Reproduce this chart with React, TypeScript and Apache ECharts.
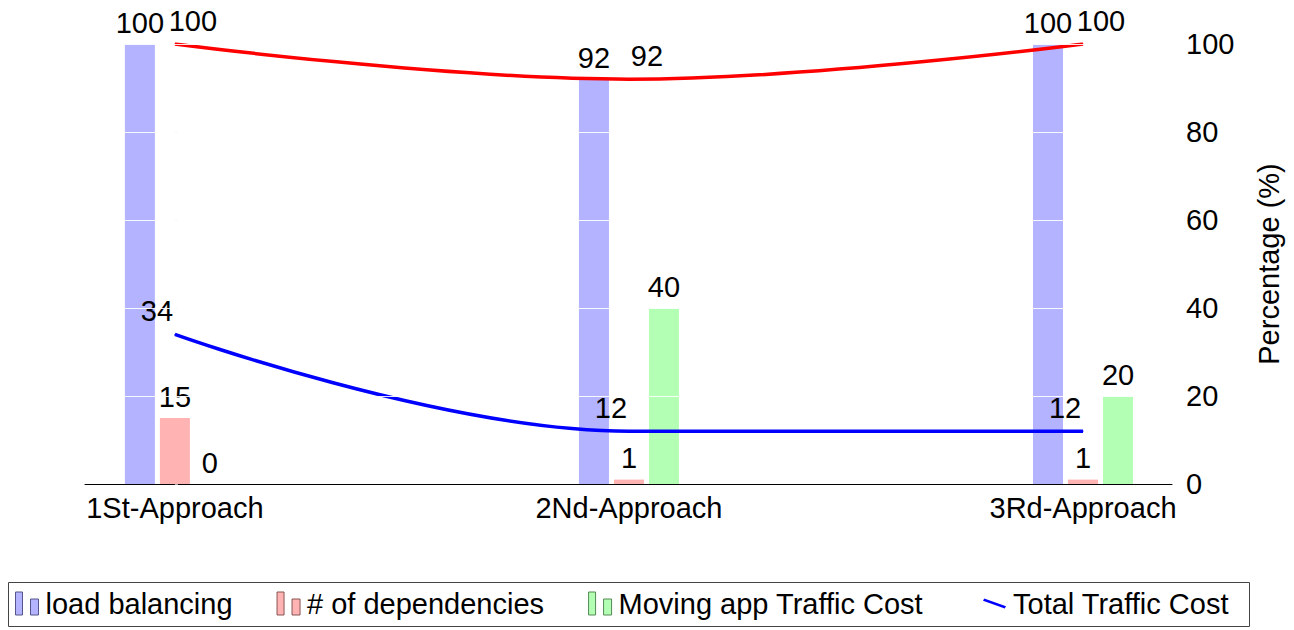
import React, { useEffect, useRef } from "react";
import * as echarts from "echarts";

const categories = ["1St-Approach", "2Nd-Approach", "3Rd-Approach"];
const loadBalancing = [100, 92, 100];
const dependencies = [15, 1, 1];
const movingCost = [0, 40, 20];
const totalCost = [34, 12, 12];
const upperLine = [100, 92, 100];
const gridValues = [20, 40, 60, 80, 100];

const FONT = "Liberation Sans";
const FS = 29;

const toXY = (arr: number[]) => arr.map((v, i) => [i, v]);

export default function App() {
  const ref = useRef<HTMLDivElement>(null);
  useEffect(() => {
    if (!ref.current) return;
    const chart = echarts.init(ref.current, undefined, { renderer: "svg" });
    const barLabel = {
      show: true,
      position: "top" as const,
      distance: 7,
      color: "#000",
      fontFamily: FONT,
      fontSize: FS,
    };
    const barIcon = "path://M0,0 L7,0 L7,23 L0,23 Z M15,7 L23,7 L23,23 L15,23 Z";
    const lineIcon = "path://M0,2.2 L1.2,0 L22,7.3 L20.8,9.5 Z";
    const legendBase = {
      top: 589,
      padding: 0,
      itemWidth: 23,
      itemHeight: 23,
      itemGap: 44,
      textStyle: { color: "#000", fontFamily: FONT, fontSize: FS, padding: [0, 0, 0, 2] },
    };
    chart.setOption({
      animation: false,
      textStyle: { fontFamily: FONT },
      grid: { left: 85, right: 122, top: 44, bottom: 146 },
      xAxis: {
        type: "value",
        min: -0.198,
        max: 2.196,
        axisLine: { show: true, lineStyle: { color: "#000", width: 1 } },
        axisTick: { show: false },
        splitLine: { show: false },
        axisLabel: {
          customValues: [0, 1, 2],
          formatter: (v: number) => categories[Math.round(v)] ?? "",
          color: "#000",
          fontFamily: FONT,
          fontSize: FS,
          margin: 9,
        },
      },
      yAxis: {
        type: "value",
        position: "right",
        min: 0,
        max: 100,
        interval: 20,
        axisLine: { show: false },
        axisTick: { show: true, length: 3, lineStyle: { color: "#aaa" } },
        splitLine: { show: false },
        axisLabel: { color: "#000", fontFamily: FONT, fontSize: FS, margin: 14 },
        name: "Percentage (%)",
        nameLocation: "middle",
        nameRotate: 90,
        nameGap: 82,
        nameTextStyle: { color: "#000", fontFamily: FONT, fontSize: FS },
      },
      legend: [
        {
          ...legendBase,
          left: 15,
          data: [
            { name: "load balancing", icon: barIcon, itemStyle: { borderColor: "#55558a", borderWidth: 1 } },
            { name: "# of dependencies", icon: barIcon, itemStyle: { borderColor: "#8a5555", borderWidth: 1 } },
            { name: "Moving app Traffic Cost", icon: barIcon, itemStyle: { borderColor: "#558a55", borderWidth: 1 } },
          ],
        },
        {
          ...legendBase,
          left: 983,
          data: [{ name: "Total Traffic Cost", icon: lineIcon }],
        },
      ],
      graphic: [
        {
          type: "rect",
          shape: { x: 8.5, y: 582.5, width: 1241, height: 44 },
          style: { fill: "none", stroke: "#444", lineWidth: 1 },
          z: -1,
        },
      ],
      series: [
        {
          name: "load balancing",
          type: "bar",
          data: toXY(loadBalancing),
          barWidth: 30,
          barGap: "16.7%",
          itemStyle: { color: "#b3b3ff" },
          label: barLabel,
        },
        {
          name: "# of dependencies",
          type: "bar",
          data: toXY(dependencies),
          barWidth: 30,
          barGap: "16.7%",
          itemStyle: { color: "#ffb3b3" },
          label: barLabel,
        },
        {
          name: "Moving app Traffic Cost",
          type: "bar",
          data: toXY(movingCost),
          barWidth: 30,
          barGap: "16.7%",
          itemStyle: { color: "#b3ffb3" },
          label: barLabel,
        },
        {
          name: "Total Traffic Cost",
          type: "line",
          data: toXY(totalCost),
          smooth: 0.4,
          symbol: "circle",
          symbolSize: 1,
          itemStyle: { color: "#0000ff" },
          lineStyle: { color: "#0000ff", width: 3.5 },
          label: {
            show: true,
            position: "top",
            distance: 8,
            offset: [-18, 0],
            color: "#000",
            fontFamily: FONT,
            fontSize: FS,
          },
        },
        {
          name: "Upper",
          type: "line",
          data: toXY(upperLine),
          smooth: 0.4,
          symbol: "circle",
          symbolSize: 1,
          itemStyle: { color: "#ff0000" },
          lineStyle: { color: "#ff0000", width: 3.5 },
          label: {
            show: true,
            position: "top",
            distance: 8,
            offset: [18, 0],
            color: "#000",
            fontFamily: FONT,
            fontSize: FS,
          },
          markLine: {
            silent: true,
            symbol: "none",
            z: 10,
            label: { show: false },
            lineStyle: { color: "#ffffff", width: 1, type: "solid", opacity: 0.9 },
            data: gridValues.map((v) => ({ yAxis: v })),
          },
        },
      ],
    });
    return () => chart.dispose();
  }, []);
  return (
    <div
      ref={ref}
      style={{ position: "fixed", left: 0, top: 0, width: 1294, height: 630, background: "#fff" }}
    />
  );
}
